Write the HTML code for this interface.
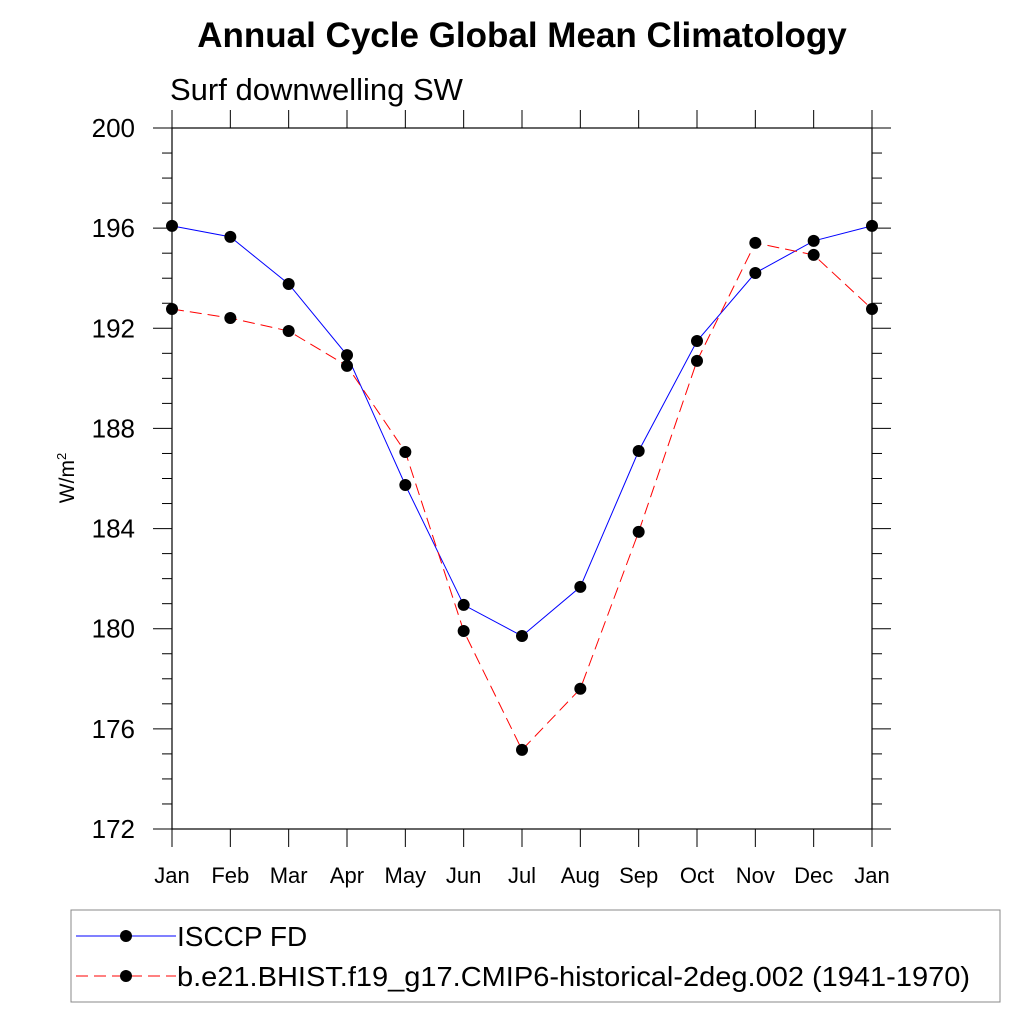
<!DOCTYPE html>
<html><head><meta charset="utf-8"><style>body{margin:0;background:#fff}</style></head>
<body>
<svg id="c" width="1024" height="1024" xmlns="http://www.w3.org/2000/svg" font-family="Liberation Sans, sans-serif">
<text x="522" y="47" text-anchor="middle" font-size="35" font-weight="bold">Annual Cycle Global Mean Climatology</text>
<text x="170" y="100" font-size="31">Surf downwelling SW</text>
<text transform="translate(74,478) rotate(-90)" text-anchor="middle" font-size="21">W/m<tspan font-size="13" dy="-8">2</tspan></text>
<g id="axes"></g><g id="series"></g>
<rect x="71" y="910" width="929" height="92" fill="none" stroke="#888" stroke-width="1"/>
<g>
<line x1="76" y1="936" x2="176" y2="936" stroke="blue" stroke-width="1"/><circle cx="126" cy="936" r="6"/>
<text x="177" y="946" font-size="28">ISCCP FD</text></g>
<g>
<line x1="76" y1="976" x2="176" y2="976" stroke="red" stroke-width="1" stroke-dasharray="12,6"/><circle cx="126" cy="976" r="6"/>
<text x="177" y="986" font-size="28" textLength="793" lengthAdjust="spacingAndGlyphs">b.e21.BHIST.f19_g17.CMIP6-historical-2deg.002 (1941-1970)</text></g>
</svg>
<script>
const months=["Jan","Feb","Mar","Apr","May","Jun","Jul","Aug","Sep","Oct","Nov","Dec","Jan"];
const isccp=[196.09,195.65,193.77,190.93,185.74,180.95,179.71,181.67,187.1,191.49,194.21,195.49,196.09];
const model=[192.77,192.41,191.89,190.5,187.06,179.91,175.16,177.6,183.87,190.7,195.41,194.93,192.77];
const yTicks=[172,176,180,184,188,192,196,200];
const NS="http://www.w3.org/2000/svg";
const X0=172,X1=872,Y0=829,Y1=128,YMIN=172,YMAX=200;
const xs=i=>X0+(X1-X0)*i/(months.length-1);
const ys=v=>Y0-(v-YMIN)/(YMAX-YMIN)*(Y0-Y1);
function mk(t,a,p){const e=document.createElementNS(NS,t);for(const k in a)e.setAttribute(k,a[k]);p.appendChild(e);return e;}
const ax=document.getElementById('axes'),sr=document.getElementById('series');
const fr=mk('rect',{x:X0,y:Y1,width:X1-X0,height:Y0-Y1,fill:'none',stroke:'#000','stroke-width':1.2},ax);


months.forEach((m,i)=>{const x=xs(i);
mk('line',{x1:x,y1:Y0,x2:x,y2:Y0+18,stroke:'#000'},ax);
mk('line',{x1:x,y1:Y1,x2:x,y2:Y1-18,stroke:'#000'},ax);
const t=mk('text',{x:x,y:883,'text-anchor':'middle','font-size':22},ax);t.textContent=m;

});
for(let v=YMIN;v<=YMAX;v++){const y=ys(v),maj=(v%4===0),L=maj?19:10;
mk('line',{x1:X0-L,y1:y,x2:X0,y2:y,stroke:'#000'},ax);
mk('line',{x1:X1,y1:y,x2:X1+L,y2:y,stroke:'#000'},ax);}
yTicks.forEach(v=>{const t=mk('text',{x:135,y:ys(v)+9,'text-anchor':'end','font-size':26},ax);t.textContent=v;

});
function draw(d,col,dash,name){
const p=mk('polyline',{points:d.map((v,i)=>xs(i)+','+ys(v)).join(' '),fill:'none',stroke:col,'stroke-width':1,'stroke-dasharray':dash},sr);


d.forEach((v,i)=>{const c=mk('circle',{cx:xs(i),cy:ys(v),r:6,fill:'#000'},sr);

});}
draw(isccp,'blue','none','isccp');
draw(model,'red','12,6','model');
</script>
</body></html>
